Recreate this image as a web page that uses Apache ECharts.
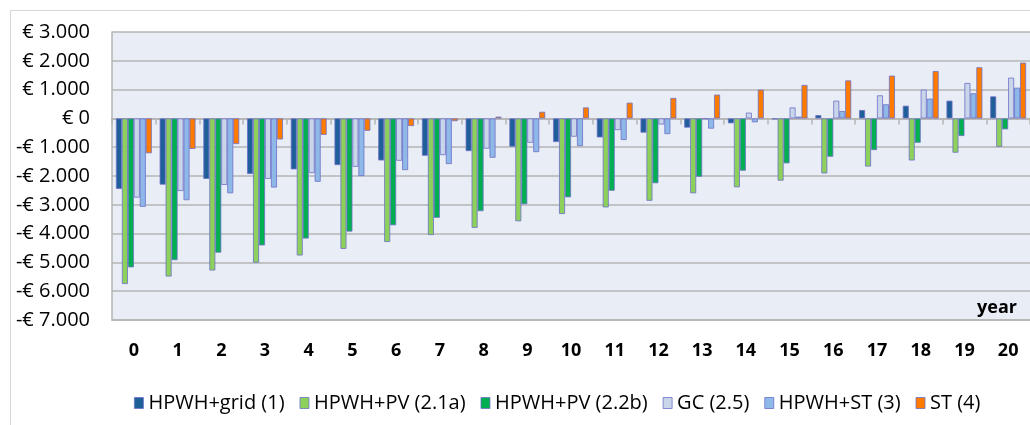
<!DOCTYPE html>
<html>
<head>
<meta charset="utf-8">
<script src="https://cdn.jsdelivr.net/npm/echarts@6/dist/echarts.min.js"></script>
<style>
  html, body { margin: 0; padding: 0; background: #fff; }
  #main { width: 1030px; height: 425px; }
</style>
</head>
<body>
<div id="main"></div>
<script>
var years = ['0','1','2','3','4','5','6','7','8','9','10','11','12','13','14','15','16','17','18','19','20'];
var seriesNames = ['HPWH+grid (1)', 'HPWH+PV (2.1a)', 'HPWH+PV (2.2b)', 'GC (2.5)', 'HPWH+ST (3)', 'ST (4)'];

var hpwhGrid = [-2450, -2300, -2100, -1930, -1770, -1620, -1460, -1295, -1135, -980, -820, -660, -495, -320, -170, -30, 115, 290, 440, 615, 765];
var hpwhPv21a = [-5750, -5490, -5280, -5010, -4760, -4530, -4290, -4050, -3800, -3570, -3320, -3090, -2860, -2600, -2390, -2160, -1910, -1670, -1460, -1190, -985];
var hpwhPv22b = [-5170, -4920, -4660, -4410, -4170, -3930, -3710, -3450, -3220, -2980, -2740, -2510, -2250, -2025, -1815, -1560, -1330, -1100, -845, -610, -380];
var gc25 = [-2750, -2520, -2310, -2100, -1900, -1680, -1470, -1275, -1050, -845, -635, -405, -210, -20, 200, 380, 615, 800, 1000, 1230, 1415];
var hpwhSt = [-3070, -2840, -2600, -2400, -2200, -2000, -1795, -1585, -1365, -1170, -960, -750, -545, -355, -135, 60, 255, 490, 685, 870, 1065];
var st4 = [-1210, -1060, -890, -730, -570, -430, -265, -95, 60, 230, 380, 545, 710, 825, 1000, 1160, 1320, 1485, 1645, 1775, 1935];

var yTicks = [-7000, -6000, -5000, -4000, -3000, -2000, -1000, 0, 1000, 2000, 3000];
var colors = ['#1F5F99', '#8ED15A', '#00B050', '#C9D6EA', '#8EB8E8', '#FF7B00'];

var FONT = '"Open Sans", Lato, sans-serif';

function euro(v) {
    if (v === 0) return '€ 0';
    var s = Math.abs(v).toString().replace(/\B(?=(\d{3})+(?!\d))/g, '.');
    return (v < 0 ? '-€ ' : '€ ') + s;
}

var dataSets = [hpwhGrid, hpwhPv21a, hpwhPv22b, gc25, hpwhSt, st4];
var series = dataSets.map(function(d, i) {
    return {
        name: seriesNames[i],
        type: 'bar',
        data: d,
        barGap: '0%',
        barCategoryGap: '18%',
        itemStyle: {
            color: colors[i],
            borderColor: '#6C70C8',
            borderWidth: 0.8
        }
    };
});

var myChart = echarts.init(document.getElementById('main'));

var option = {
    backgroundColor: '#fff',
    animation: false,
    color: colors,
    textStyle: { fontFamily: FONT },
    grid: {
        left: 112,
        right: -2,
        top: 32,
        bottom: 105,
        show: true,
        backgroundColor: '#E9EDF5',
        borderWidth: 0
    },
    legend: {
        top: 388,
        left: 129,
        itemWidth: 9,
        itemHeight: 11,
        itemGap: 15,
        icon: 'rect',
        itemStyle: { borderColor: '#6C70C8', borderWidth: 0.8 },
        textStyle: { fontSize: 20, color: '#000', fontFamily: FONT },
        data: seriesNames
    },
    xAxis: [{
        type: 'category',
        data: years,
        axisLine: { onZero: true, lineStyle: { color: '#B5B5B5', width: 1.5 } },
        axisTick: { show: true, length: 6, lineStyle: { color: '#B5B5B5', width: 1.5 } },
        axisLabel: { show: false }
    }, {
        type: 'category',
        data: years,
        position: 'bottom',
        axisLine: { onZero: false, show: true, lineStyle: { color: '#B5B5B5', width: 1.5 } },
        axisTick: { show: false },
        axisLabel: { fontSize: 18, fontWeight: 'bold', color: '#000', margin: 22, fontFamily: FONT }
    }],
    yAxis: {
        type: 'value',
        min: yTicks[0],
        max: yTicks[yTicks.length - 1],
        interval: 1000,
        axisLine: { show: true, lineStyle: { color: '#B5B5B5', width: 1.5 } },
        axisTick: { show: false },
        splitLine: { lineStyle: { color: '#B5B5B5', width: 1.5 } },
        axisLabel: {
            fontSize: 20,
            color: '#000',
            margin: 22,
            fontFamily: FONT,
            formatter: euro
        }
    },
    graphic: [{
        type: 'rect',
        shape: { x: 10.5, y: 10.5, width: 1040, height: 440 },
        style: { fill: 'none', stroke: '#D6D6D6', lineWidth: 1 },
        silent: true
    }, {
        type: 'text',
        right: 13,
        top: 299,
        style: { text: 'year', fontSize: 18, fontWeight: 'bold', fill: '#000', fontFamily: FONT },
        z: 10
    }],
    series: series
};

myChart.setOption(option);
</script>
</body>
</html>
